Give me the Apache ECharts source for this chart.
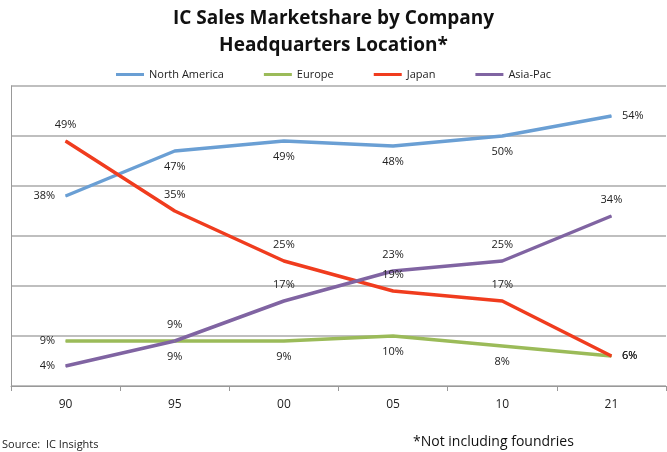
<!DOCTYPE html>
<html><head><meta charset="utf-8">
<script src="https://cdn.jsdelivr.net/npm/echarts@6/dist/echarts.min.js"></script>
<style>html,body{margin:0;background:#fff}#c{width:667px;height:452px}</style>
</head><body><div id="c"></div>
<script>
const categories = ['90','95','00','05','10','21'];
const northAmerica = [38,47,49,48,50,54];
const europe = [9,9,9,10,8,6];
const japan = [49,35,25,19,17,6];
const asiaPac = [4,9,17,23,25,34];
const naPos = ['left','bottom','bottom','bottom','bottom','right'];
const euPos = ['left','bottom','bottom','bottom','bottom','right'];
const jpPos = ['top','top','top','top','top','right'];
const apPos = ['left','top','top','top','top','top'];
const F = 'Open Sans';
function mk(name, vals, pos, color){
  return {name, type:'line', symbol:'circle', symbolSize:1, lineStyle:{width:3.5,color}, itemStyle:{color},
    data: vals.map((v,i)=>({value:v, label:{show:true, position:pos[i], distance:10, formatter:v+'%', color:'#222', fontFamily:F, fontSize:11}}))};
}
const chart = echarts.init(document.getElementById('c'));
chart.setOption({
  animation:false,
  title:{text:'IC Sales Marketshare by Company\nHeadquarters Location*', left:'center', top:0,
    textStyle:{fontFamily:F, fontWeight:'bold', fontSize:19, lineHeight:27, color:'#111'}},
  legend:{top:64, left:'center', itemWidth:28, itemHeight:3, itemGap:40, icon:'rect',
    textStyle:{fontFamily:F, fontSize:11, color:'#222'}},
  grid:{left:11, right:1, top:86, bottom:66},
  xAxis:{type:'category', data:categories, boundaryGap:true,
    axisLine:{lineStyle:{color:'#999'}}, axisTick:{show:true, lineStyle:{color:'#999'}},
    axisLabel:{fontFamily:F, fontSize:12, color:'#222', margin:13}},
  yAxis:{type:'value', min:0, max:60, interval:10, axisLabel:{show:false},
    axisLine:{show:true, lineStyle:{color:'#999'}}, axisTick:{show:false},
    splitLine:{lineStyle:{color:'#aaa', width:1.5}}},
  series:[mk('North America',northAmerica,naPos,'#6a9fd4'), mk('Europe',europe,euPos,'#9bbb59'),
          mk('Japan',japan,jpPos,'#f03c1e'), mk('Asia-Pac',asiaPac,apPos,'#8064a2')],
  graphic:[
    {type:'text', left:2, top:439, style:{text:'Source:  IC Insights', fontFamily:F, fontSize:11, fill:'#222'}},
    {type:'text', left:413, top:435, style:{text:'*Not including foundries', fontFamily:F, fontSize:14, fill:'#111'}}
  ]
});
</script></body></html>
